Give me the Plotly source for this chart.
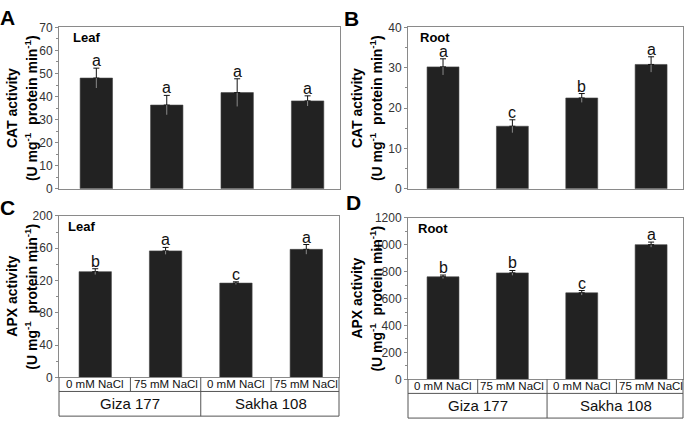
import plotly.graph_objects as go

W, H = 685, 427

# ---------------- data ----------------
treatments = ["0 mM NaCl", "75 mM NaCl", "0 mM NaCl", "75 mM NaCl"]
cultivars = ["Giza 177", "Sakha 108"]

cat_leaf = [48.0, 36.3, 41.7, 38.1]
cat_leaf_err = [4.3, 4.2, 6.0, 2.2]
cat_leaf_sig = ["a", "a", "a", "a"]

cat_root = [30.2, 15.5, 22.5, 30.8]
cat_root_err = [2.0, 1.6, 1.1, 1.9]
cat_root_sig = ["a", "c", "b", "a"]

apx_leaf = [131.0, 156.7, 116.8, 158.6]
apx_leaf_err = [3.6, 4.3, 1.6, 6.0]
apx_leaf_sig = ["b", "a", "c", "a"]

apx_root = [762, 791, 643, 1001]
apx_root_err = [13, 18, 17, 19]
apx_root_sig = ["b", "b", "c", "a"]

FONT = "Liberation Sans, Arial, sans-serif"
BAR = "#222222"
FRAME = "#8a8a8a"
TABLE = "#555555"


def px(x):
    return x / W


def py(y):
    return 1 - y / H


panels = [
    dict(ax="", vals=cat_leaf, err=cat_leaf_err, sig=cat_leaf_sig, xd=(59, 340), yd=(21, 188),
         yr=[0, 70], dt=10, mdt=5, xr=[-0.53, 3.46], tissue="Leaf", enz="CAT activity",
         letter="A", lpos=(-1, -2), tpos=(72, 32), tx=(12, 31)),
    dict(ax="2", vals=cat_root, err=cat_root_err, sig=cat_root_sig, xd=(408, 683), yd=(21, 188),
         yr=[0, 40], dt=10, mdt=5, xr=[-0.505, 3.46], tissue="Root", enz="CAT activity",
         letter="B", lpos=(343, -1), tpos=(419, 31.5), tx=(357, 376)),
    dict(ax="3", vals=apx_leaf, err=apx_leaf_err, sig=apx_leaf_sig, xd=(59, 339), yd=(216, 383),
         yr=[0, 200], dt=40, mdt=20, xr=[-0.515, 3.465], tissue="Leaf", enz="APX activity",
         letter="C", lpos=(-1, 194), tpos=(67, 227), tx=(12, 31)),
    dict(ax="4", vals=apx_root, err=apx_root_err, sig=apx_root_sig, xd=(408, 683), yd=(218, 385),
         yr=[0, 1200], dt=200, mdt=100, xr=[-0.505, 3.46], tissue="Root", enz="APX activity",
         letter="D", lpos=(345, 189), tpos=(417, 229), tx=(357, 376)),
]

fig = go.Figure()
annotations = []
shapes = []
layout_axes = {}

xs = list(range(len(treatments)))

for p in panels:
    a = p["ax"]
    xref = "x" + a
    yref = "y" + a
    # bars with upper error
    fig.add_trace(go.Bar(
        x=xs, y=p["vals"], xaxis=xref, yaxis=yref, width=0.46,
        marker=dict(color=BAR, line=dict(color="#444444", width=0.6)),
        error_y=dict(type="data", array=p["err"], arrayminus=[0] * 4, symmetric=False,
                     color="#111111", thickness=1, width=3),
        showlegend=False, hoverinfo="skip",
    ))
    # lower part of the error bar (inside the bar)
    fig.add_trace(go.Scatter(
        x=xs, y=p["vals"], xaxis=xref, yaxis=yref, mode="markers",
        marker=dict(size=1, color="rgba(0,0,0,0)"),
        error_y=dict(type="data", array=[0] * 4, arrayminus=p["err"], symmetric=False,
                     color="#8a8a8a", thickness=1, width=0),
        showlegend=False, hoverinfo="skip",
    ))
    # significance letters
    for i, (v, e, s) in enumerate(zip(p["vals"], p["err"], p["sig"])):
        annotations.append(dict(x=i, y=v + e, xref=xref, yref=yref, text=s, showarrow=False,
                                xanchor="center", yanchor="bottom", yshift=-2, borderpad=0,
                                font=dict(family=FONT, size=16, color="#111111")))
    xd = p["xd"]
    yd = p["yd"]
    layout_axes["xaxis" + a] = dict(
        domain=[px(xd[0]), px(xd[1])], range=p["xr"], anchor=yref,
        showline=True, linecolor=FRAME, linewidth=1, mirror=True,
        showticklabels=False, ticks="", showgrid=False, zeroline=False, fixedrange=True,
    )
    layout_axes["yaxis" + a] = dict(
        domain=[py(yd[1]), py(yd[0])], range=p["yr"], anchor=xref,
        showline=True, linecolor=FRAME, linewidth=1, mirror=True,
        ticks="outside", ticklen=3, tickwidth=1, tickcolor=FRAME,
        dtick=p["dt"], tick0=0, showgrid=False, zeroline=False,
        tickfont=dict(family=FONT, size=12, color="#333333"),
        minor=dict(ticks="outside", ticklen=2, dtick=p["mdt"], tickcolor=FRAME, showgrid=False),
        fixedrange=True,
    )
    # panel letter
    annotations.append(dict(x=px(p["lpos"][0]), y=py(p["lpos"][1]), xref="paper", yref="paper",
                            text="<b>%s</b>" % p["letter"], showarrow=False,
                            xanchor="left", yanchor="top", borderpad=0,
                            font=dict(family=FONT, size=21, color="#000000")))
    # tissue label
    annotations.append(dict(x=px(p["tpos"][0]), y=py(p["tpos"][1]), xref="paper", yref="paper",
                            text="<b>%s</b>" % p["tissue"], showarrow=False,
                            xanchor="left", yanchor="middle", borderpad=0,
                            font=dict(family=FONT, size=13, color="#000000")))
    # y-axis titles (two lines)
    ymid = (yd[0] + yd[1]) / 2
    annotations.append(dict(x=px(p["tx"][0]), y=py(ymid), xref="paper", yref="paper",
                            text="<b>%s</b>" % p["enz"], showarrow=False, textangle=-90,
                            xanchor="center", yanchor="middle", borderpad=0,
                            font=dict(family=FONT, size=14, color="#000000")))
    annotations.append(dict(x=px(p["tx"][1]), y=py(ymid), xref="paper", yref="paper",
                            text="<b>(U mg<sup>-1</sup>  protein min<sup>-1</sup>)</b>",
                            showarrow=False, textangle=-90,
                            xanchor="center", yanchor="middle", borderpad=0,
                            font=dict(family=FONT, size=14, color="#000000")))

# category table under panels C and D
for p in panels[2:]:
    a = p["ax"]
    xref = "x" + a
    xdom = "x" + a + " domain"
    top = p["yd"][1]
    r1 = top + 14.5
    r2 = top + 40
    line = dict(color=TABLE, width=1)
    shapes.append(dict(type="line", xref=xdom, yref="paper", x0=0, x1=1, y0=py(r1), y1=py(r1), line=line))
    shapes.append(dict(type="line", xref=xdom, yref="paper", x0=0, x1=1, y0=py(r2), y1=py(r2), line=line))
    shapes.append(dict(type="line", xref=xdom, yref="paper", x0=0, x1=0, y0=py(top), y1=py(r2), line=line))
    shapes.append(dict(type="line", xref=xdom, yref="paper", x0=1, x1=1, y0=py(top), y1=py(r2), line=line))
    for i in range(len(treatments) - 1):
        xm = i + 0.5
        shapes.append(dict(type="line", xref=xref, yref="paper", x0=xm, x1=xm,
                           y0=py(top), y1=py(r1), line=line))
    shapes.append(dict(type="line", xref=xref, yref="paper", x0=1.5, x1=1.5,
                       y0=py(r1), y1=py(r2), line=line))
    for i, t in enumerate(treatments):
        annotations.append(dict(x=i, y=py((top + r1) / 2), xref=xref, yref="paper", text=t,
                                showarrow=False, xanchor="center", yanchor="middle", borderpad=0,
                                font=dict(family=FONT, size=11.5, color="#111111")))
    for j, c in enumerate(cultivars):
        annotations.append(dict(x=2 * j + 0.5, y=py((r1 + r2) / 2), xref=xref, yref="paper", text=c,
                                showarrow=False, xanchor="center", yanchor="middle", borderpad=0,
                                font=dict(family=FONT, size=15, color="#111111")))

fig.update_layout(
    width=W, height=H, autosize=False,
    margin=dict(l=0, r=0, t=0, b=0, pad=0),
    paper_bgcolor="white", plot_bgcolor="white",
    font=dict(family=FONT, color="#222222"),
    barmode="overlay",
    annotations=annotations, shapes=shapes,
    **layout_axes,
)

fig.write_html("out.html", config={"displayModeBar": False},
               post_script="document.body.style.margin='0';document.body.style.padding='0';document.body.style.overflow='hidden';")
